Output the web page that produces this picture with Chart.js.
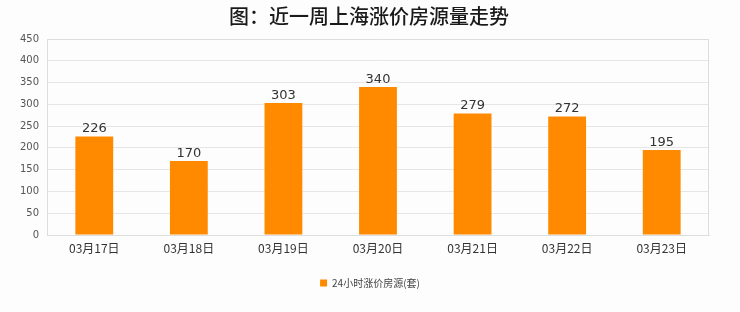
<!DOCTYPE html>
<html>
<head>
<meta charset="utf-8">
<script src="https://cdn.jsdelivr.net/npm/chart.js@4.4.0/dist/chart.umd.min.js"></script>
<style>
  html, body { margin: 0; padding: 0; background: #fdfdfd; }
  #box { width: 740px; height: 312px; }
</style>
</head>
<body>
<div id="box"><canvas id="trend-chart"></canvas></div>
<script>
const days = ['03月17日', '03月18日', '03月19日', '03月20日', '03月21日', '03月22日', '03月23日'];
const rising = [226, 170, 303, 340, 279, 272, 195];
const yTicks = [0, 50, 100, 150, 200, 250, 300, 350, 400, 450];
const chartTitle = '图：近一周上海涨价房源量走势';
const seriesName = '24小时涨价房源(套)';

// title + numbers above bars
const extras = {
  id: 'extras',
  afterDatasetsDraw(chart) {
    const ctx = chart.ctx;
    ctx.save();
    ctx.fillStyle = '#1a1a1a';
    ctx.font = '500 20px "Noto Sans CJK SC"';
    ctx.textAlign = 'center';
    ctx.textBaseline = 'middle';
    ctx.fillText(chartTitle, 369, 16);

    ctx.font = '13px "DejaVu Sans"';
    ctx.fillStyle = '#333';
    ctx.textBaseline = 'bottom';
    chart.getDatasetMeta(0).data.forEach(function (bar, i) {
      ctx.fillText(rising[i], bar.x, bar.y - 1);
    });
    ctx.restore();
  }
};

new Chart(document.getElementById('trend-chart'), {
  type: 'bar',
  data: {
    labels: days,
    datasets: [{
      label: seriesName,
      data: rising,
      backgroundColor: '#ff8a00',
      borderWidth: 0,
      barPercentage: 0.4,
      categoryPercentage: 1
    }]
  },
  options: {
    responsive: true,
    maintainAspectRatio: false,
    animation: false,
    layout: { padding: { top: 39, right: 0, left: 0, bottom: 14 } },
    scales: {
      y: {
        min: 0,
        max: 450,
        afterFit: function (s) { s.width = 47; },
        afterBuildTicks: function (s) { s.ticks = yTicks.map(v => ({ value: v })); },
        grid: { color: '#e6e6e6', drawTicks: false },
        border: { color: '#dddddd' },
        ticks: { color: '#555', font: { size: 10, family: 'DejaVu Sans' }, padding: 8 }
      },
      // empty right gutter so the legend stays centred on the page
      gutter: {
        position: 'right',
        min: 0,
        max: 450,
        afterFit: function (s) { s.width = 31; },
        grid: { display: false },
        border: { display: false },
        ticks: { display: false }
      },
      x: {
        afterFit: function (s) { s.height = 33; },
        grid: { display: false },
        border: { color: '#dddddd' },
        ticks: { color: '#333', font: { size: 12, family: '"Noto Sans CJK SC"' }, padding: -2 }
      }
    },
    plugins: {
      title: { display: false },
      tooltip: { enabled: false },
      legend: {
        position: 'bottom',
        labels: {
          boxWidth: 7,
          boxHeight: 7,
          color: '#444',
          font: { size: 10, family: '"Noto Sans CJK SC"' }
        }
      }
    }
  },
  plugins: [extras, {
    id: 'frame',
    afterDraw(chart) {
      const a = chart.chartArea, ctx = chart.ctx;
      ctx.save();
      ctx.strokeStyle = '#dddddd';
      ctx.lineWidth = 1;
      ctx.beginPath();
      ctx.moveTo(a.left, a.top + 0.5);
      ctx.lineTo(a.right - 0.5, a.top + 0.5);
      ctx.lineTo(a.right - 0.5, a.bottom);
      ctx.stroke();
      ctx.restore();
    }
  }]
});
</script>
</body>
</html>
